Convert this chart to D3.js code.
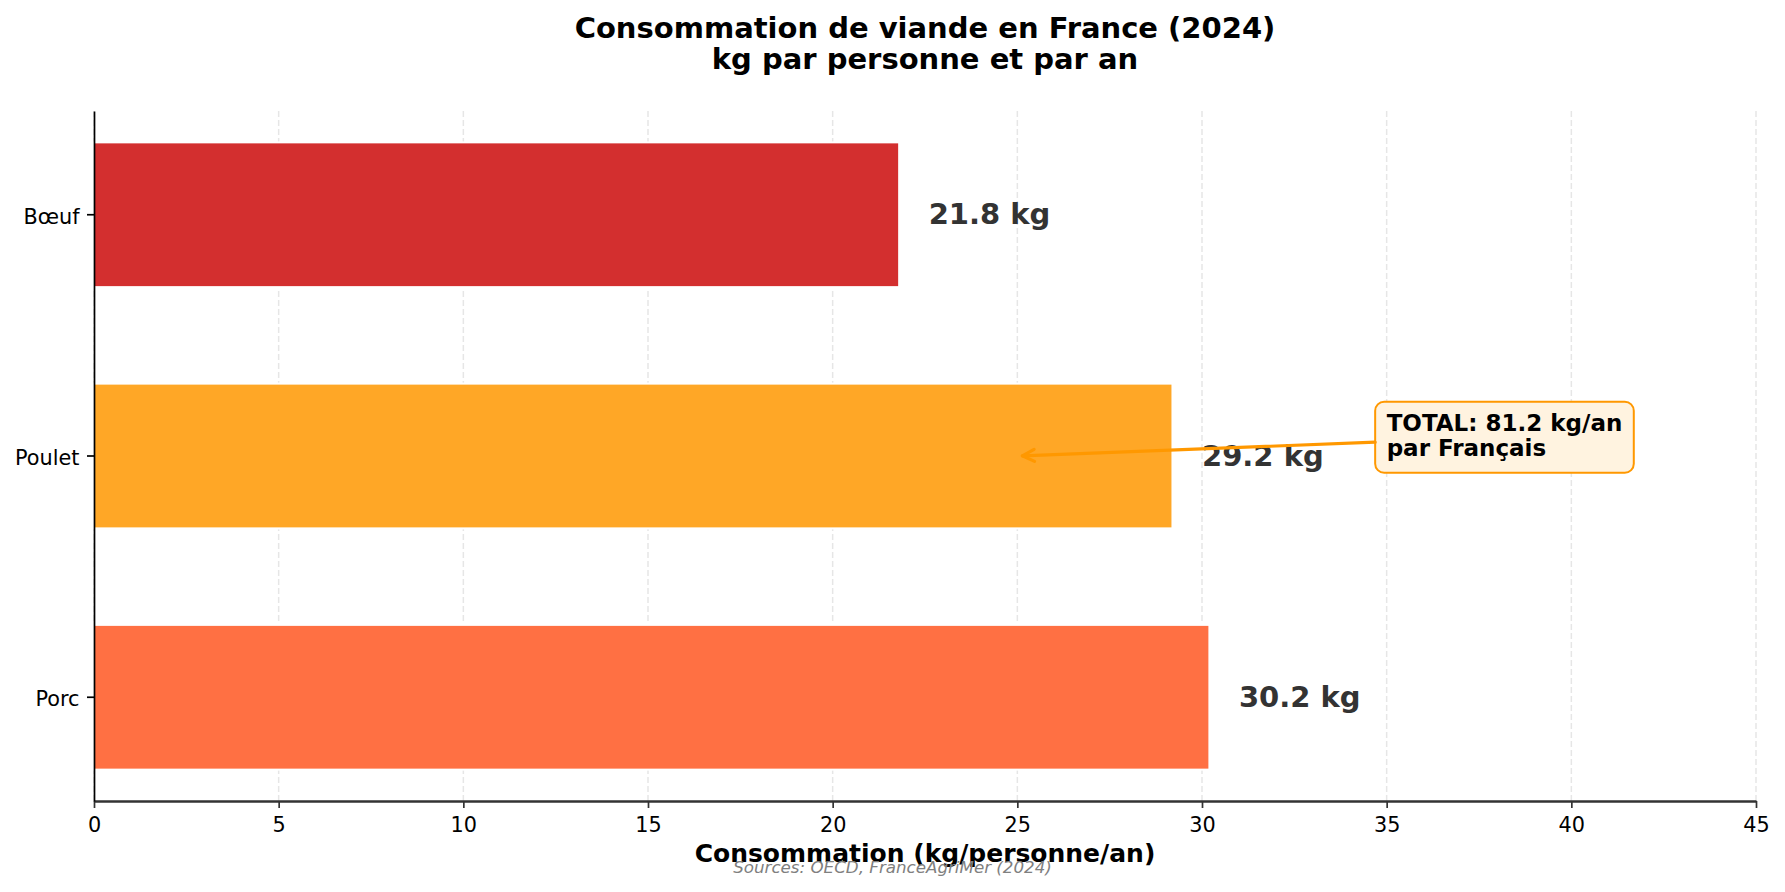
<!DOCTYPE html>
<html>
<head>
<meta charset="utf-8">
<script src="https://cdn.jsdelivr.net/npm/d3@7"></script>
<style>
  body { margin: 0; background: #fff; }
  text { font-family: "DejaVu Sans", sans-serif; }
</style>
</head>
<body>
<div id="chart"></div>
<script>
// data
const categories = ["Bœuf", "Poulet", "Porc"];
const values = [21.8, 29.2, 30.2];
const colors = ["#d32f2f", "#ffa726", "#ff7043"];
const xTicks = [0, 5, 10, 15, 20, 25, 30, 35, 40, 45];
const titleLines = ["Consommation de viande en France (2024)", "kg par personne et par an"];
const noteLines = ["TOTAL: 81.2 kg/an", "par Français"];
const noteTarget = { category: "Poulet", value: 25 };
const noteTextValue = 35;
const noteShift = -0.08; // text sits a bit above the target row (in band steps)

function init() {
    const W = 1785, H = 892;
    const margin = {top: 111, right: 29, bottom: 91, left: 94};
    const w = W - margin.left - margin.right;
    const h = H - margin.top - margin.bottom;

    const svg = d3.select("#chart").append("svg")
        .attr("width", W)
        .attr("height", H);

    const g = svg.append("g")
        .attr("transform", "translate(" + margin.left + "," + margin.top + ")");

    const x = d3.scaleLinear().domain([0, 45]).range([0, w]);
    const y = d3.scaleBand().domain(categories).range([0, h])
        .paddingInner(0.4).paddingOuter(0.13);

    // dashed vertical grid
    g.append("g").selectAll("line")
        .data(xTicks)
        .join("line")
        .attr("x1", d => x(d)).attr("x2", d => x(d))
        .attr("y1", 0).attr("y2", h)
        .attr("stroke", "#e6e6e6")
        .attr("stroke-width", 1.5)
        .attr("stroke-dasharray", "6,3");

    // bars
    const data = categories.map((c, i) => ({cat: c, value: values[i], color: colors[i]}));
    g.selectAll(".bar")
        .data(data)
        .join("rect")
        .attr("class", "bar")
        .attr("x", x(0))
        .attr("y", d => y(d.cat))
        .attr("width", d => x(d.value) - x(0))
        .attr("height", y.bandwidth())
        .attr("fill", d => d.color)
        .attr("stroke", "#fff")
        .attr("stroke-width", 2);

    // value labels
    g.selectAll(".val")
        .data(data)
        .join("text")
        .attr("class", "val")
        .attr("x", d => x(d.value + 0.8))
        .attr("y", d => y(d.cat) + y.bandwidth() / 2)
        .attr("dy", "0.33em")
        .style("font-size", "29px")
        .style("font-weight", "bold")
        .attr("fill", "#333")
        .text(d => d.value.toFixed(1) + " kg");

    // axes
    const xAxis = g.append("g")
        .attr("transform", "translate(0," + h + ")")
        .call(d3.axisBottom(x).tickValues(xTicks).tickSize(7).tickSizeOuter(0).tickPadding(9));
    xAxis.select(".domain").attr("stroke", "#333").attr("stroke-width", 2.5);
    xAxis.selectAll(".tick line").attr("stroke", "#333").attr("stroke-width", 1.7);
    xAxis.selectAll(".tick text").style("font-size", "20.8px").attr("fill", "#000");

    const yAxis = g.append("g")
        .call(d3.axisLeft(y).tickSize(7).tickSizeOuter(0).tickPadding(7.5));
    yAxis.select(".domain").attr("stroke", "#000").attr("stroke-width", 1.7);
    yAxis.selectAll(".tick line").attr("stroke", "#000").attr("stroke-width", 1.7);
    yAxis.selectAll(".tick text").style("font-size", "20.8px").attr("fill", "#000").attr("dy", "0.44em");

    // title
    svg.append("text")
        .attr("text-anchor", "middle")
        .attr("x", margin.left + w / 2)
        .attr("y", 38)
        .style("font-size", "29px")
        .style("font-weight", "bold")
        .selectAll("tspan")
        .data(titleLines)
        .join("tspan")
        .attr("x", margin.left + w / 2)
        .attr("dy", (d, i) => i === 0 ? 0 : 31)
        .text(d => d);

    // x label
    svg.append("text")
        .attr("text-anchor", "middle")
        .attr("x", margin.left + w / 2)
        .attr("y", 862)
        .style("font-size", "25px")
        .style("font-weight", "bold")
        .text("Consommation (kg/personne/an)");

    // source
    svg.append("text")
        .attr("text-anchor", "middle")
        .attr("x", W / 2)
        .attr("y", 873)
        .style("font-size", "16.7px")
        .style("font-style", "italic")
        .attr("fill", "#808080")
        .text("Sources: OECD, FranceAgriMer (2024)");

    // annotation box + arrow
    const fs = 23, pad = 11.5;
    const cy = y(noteTarget.category) + y.bandwidth() / 2;
    const ty = cy + noteShift * y.step();
    const tx = x(noteTextValue);
    const base1 = ty - 6;
    const note = g.append("g");
    const noteText = note.append("text")
        .style("font-size", fs + "px")
        .style("font-weight", "bold")
        .attr("fill", "#000");
    noteText.selectAll("tspan")
        .data(noteLines)
        .join("tspan")
        .attr("x", tx)
        .attr("y", (d, i) => base1 + i * 25)
        .text(d => d);
    const bb = noteText.node().getBBox();
    const box = {
        x0: bb.x - pad,
        x1: bb.x + bb.width + pad,
        y0: base1 - 0.76 * fs - pad,
        y1: base1 + 25 + 0.24 * fs + pad
    };
    note.insert("rect", "text")
        .attr("x", box.x0).attr("y", box.y0)
        .attr("width", box.x1 - box.x0).attr("height", box.y1 - box.y0)
        .attr("rx", 9).attr("ry", 9)
        .attr("fill", "#fff3e0")
        .attr("stroke", "#ff9800")
        .attr("stroke-width", 2);

    // arrow from box centre to target, clipped at the box edge
    const bcx = (box.x0 + box.x1) / 2, bcy = (box.y0 + box.y1) / 2;
    const px = x(noteTarget.value), py = cy;
    const dx = px - bcx, dy = py - bcy;
    const len = Math.sqrt(dx * dx + dy * dy);
    const ux = dx / len, uy = dy / len;
    const tEdge = Math.min(
        ux !== 0 ? Math.abs((ux < 0 ? box.x0 - bcx : box.x1 - bcx) / ux) : Infinity,
        uy !== 0 ? Math.abs((uy < 0 ? box.y0 - bcy : box.y1 - bcy) / uy) : Infinity
    );
    const sx = bcx + ux * tEdge, sy = bcy + uy * tEdge;
    const ex = px - ux * 5, ey = py - uy * 5;
    const arrow = g.append("g")
        .attr("stroke", "#ff9800")
        .attr("stroke-width", 3.2)
        .attr("fill", "none")
        .attr("stroke-linecap", "round");
    arrow.append("line")
        .attr("x1", sx).attr("y1", sy).attr("x2", ex).attr("y2", ey);
    const hl = 12, hw = 6;
    const bx = ex - ux * hl, by = ey - uy * hl;
    arrow.append("path")
        .attr("stroke-linejoin", "round")
        .attr("d", "M" + (bx - uy * hw) + "," + (by + ux * hw) +
            "L" + ex + "," + ey +
            "L" + (bx + uy * hw) + "," + (by - ux * hw));
}

window.onload = init;
</script>
</body>
</html>
